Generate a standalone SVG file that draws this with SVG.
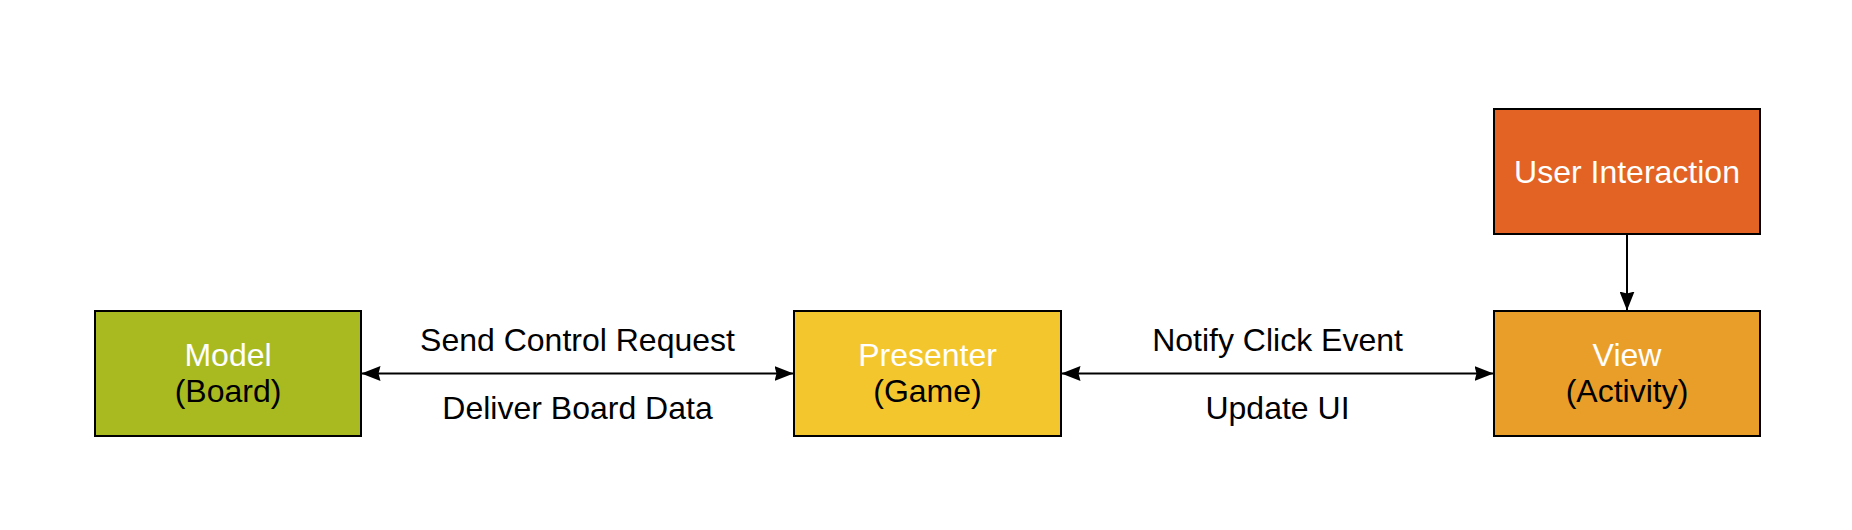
<svg xmlns="http://www.w3.org/2000/svg" width="1852" height="530" viewBox="0 0 1852 530">
<style>
.box{stroke:#000;stroke-width:2}
.t{font-family:"Liberation Sans",Arial,sans-serif;font-size:32px;text-anchor:middle}
.w{fill:#fff}
.k{fill:#000}
.c{stroke:#000;stroke-width:2;fill:none}
</style>
<defs>
<marker id="ah" viewBox="0 0 19 15" refX="18.5" refY="7.5" markerWidth="19" markerHeight="15" markerUnits="userSpaceOnUse" orient="auto-start-reverse">
<path d="M0,0 L19,7.5 L0,15 L2,7.5 Z" fill="#000"/>
</marker>
</defs>
<rect width="1852" height="530" fill="#fff"/>
<g id="connectors">
<line class="c" x1="362" y1="373.5" x2="793" y2="373.5" marker-start="url(#ah)" marker-end="url(#ah)"/>
<line class="c" x1="1062" y1="373.5" x2="1493" y2="373.5" marker-start="url(#ah)" marker-end="url(#ah)"/>
<line class="c" x1="1627" y1="235" x2="1627" y2="310" marker-end="url(#ah)"/>
<text class="t k" x="577.5" y="351">Send Control Request</text>
<text class="t k" x="577.5" y="419">Deliver Board Data</text>
<text class="t k" x="1277.5" y="351">Notify Click Event</text>
<text class="t k" x="1277.5" y="419">Update UI</text>
</g>
<g id="model">
<rect class="box" x="95" y="311" width="266" height="125" fill="#A9BA21"/>
<text class="t w" x="228" y="366">Model</text>
<text class="t k" x="228" y="402">(Board)</text>
</g>
<g id="presenter">
<rect class="box" x="794" y="311" width="267" height="125" fill="#F4C62E"/>
<text class="t w" x="927.5" y="366">Presenter</text>
<text class="t k" x="927.5" y="402">(Game)</text>
</g>
<g id="view">
<rect class="box" x="1494" y="311" width="266" height="125" fill="#EA9E2A"/>
<text class="t w" x="1627" y="366">View</text>
<text class="t k" x="1627" y="402">(Activity)</text>
</g>
<g id="user-interaction">
<rect class="box" x="1494" y="109" width="266" height="125" fill="#E36325"/>
<text class="t w" x="1627" y="183">User Interaction</text>
</g>
</svg>
